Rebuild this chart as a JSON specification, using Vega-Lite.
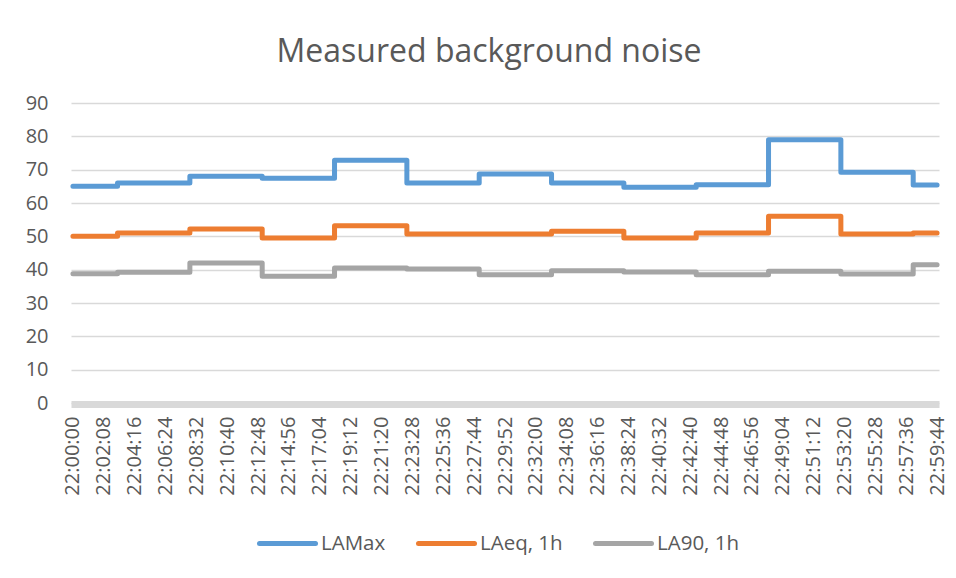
{
  "$schema": "https://vega.github.io/schema/vega-lite/v6.json",
  "width": 868,
  "height": 300,
  "autosize": "none",
  "padding": {"left": 71, "top": 103, "right": 17, "bottom": 175},
  "background": "white",
  "title": {
    "text": "Measured background noise",
    "font": "Open Sans",
    "fontSize": 32,
    "fontWeight": "normal",
    "color": "#595959",
    "anchor": "middle",
    "frame": "group",
    "dx": -16,
    "offset": 24
  },
  "config": {
    "view": {"stroke": null},
    "font": "Open Sans"
  },
  "data": {
    "values": [
      {"t": "2024-01-01T22:00:00", "series": "LAMax", "v": 65.0},
      {"t": "2024-01-01T22:03:05", "series": "LAMax", "v": 66.0},
      {"t": "2024-01-01T22:08:05", "series": "LAMax", "v": 68.0},
      {"t": "2024-01-01T22:13:05", "series": "LAMax", "v": 67.4},
      {"t": "2024-01-01T22:18:05", "series": "LAMax", "v": 72.8},
      {"t": "2024-01-01T22:23:05", "series": "LAMax", "v": 66.0},
      {"t": "2024-01-01T22:28:05", "series": "LAMax", "v": 68.7},
      {"t": "2024-01-01T22:33:05", "series": "LAMax", "v": 66.0},
      {"t": "2024-01-01T22:38:05", "series": "LAMax", "v": 64.7},
      {"t": "2024-01-01T22:43:05", "series": "LAMax", "v": 65.5},
      {"t": "2024-01-01T22:48:05", "series": "LAMax", "v": 79.0},
      {"t": "2024-01-01T22:53:05", "series": "LAMax", "v": 69.2},
      {"t": "2024-01-01T22:58:05", "series": "LAMax", "v": 65.4},
      {"t": "2024-01-01T22:59:44", "series": "LAMax", "v": 65.4},
      {"t": "2024-01-01T22:00:00", "series": "LAeq, 1h", "v": 50.0},
      {"t": "2024-01-01T22:03:05", "series": "LAeq, 1h", "v": 51.0},
      {"t": "2024-01-01T22:08:05", "series": "LAeq, 1h", "v": 52.2},
      {"t": "2024-01-01T22:13:05", "series": "LAeq, 1h", "v": 49.5},
      {"t": "2024-01-01T22:18:05", "series": "LAeq, 1h", "v": 53.2},
      {"t": "2024-01-01T22:23:05", "series": "LAeq, 1h", "v": 50.7},
      {"t": "2024-01-01T22:28:05", "series": "LAeq, 1h", "v": 50.7},
      {"t": "2024-01-01T22:33:05", "series": "LAeq, 1h", "v": 51.5},
      {"t": "2024-01-01T22:38:05", "series": "LAeq, 1h", "v": 49.5},
      {"t": "2024-01-01T22:43:05", "series": "LAeq, 1h", "v": 51.0},
      {"t": "2024-01-01T22:48:05", "series": "LAeq, 1h", "v": 56.0},
      {"t": "2024-01-01T22:53:05", "series": "LAeq, 1h", "v": 50.7},
      {"t": "2024-01-01T22:58:05", "series": "LAeq, 1h", "v": 51.0},
      {"t": "2024-01-01T22:59:44", "series": "LAeq, 1h", "v": 51.0},
      {"t": "2024-01-01T22:00:00", "series": "LA90, 1h", "v": 38.8},
      {"t": "2024-01-01T22:03:05", "series": "LA90, 1h", "v": 39.2},
      {"t": "2024-01-01T22:08:05", "series": "LA90, 1h", "v": 42.0},
      {"t": "2024-01-01T22:13:05", "series": "LA90, 1h", "v": 38.0},
      {"t": "2024-01-01T22:18:05", "series": "LA90, 1h", "v": 40.5},
      {"t": "2024-01-01T22:23:05", "series": "LA90, 1h", "v": 40.2},
      {"t": "2024-01-01T22:28:05", "series": "LA90, 1h", "v": 38.5},
      {"t": "2024-01-01T22:33:05", "series": "LA90, 1h", "v": 39.7},
      {"t": "2024-01-01T22:38:05", "series": "LA90, 1h", "v": 39.3},
      {"t": "2024-01-01T22:43:05", "series": "LA90, 1h", "v": 38.5},
      {"t": "2024-01-01T22:48:05", "series": "LA90, 1h", "v": 39.5},
      {"t": "2024-01-01T22:53:05", "series": "LA90, 1h", "v": 38.7},
      {"t": "2024-01-01T22:58:05", "series": "LA90, 1h", "v": 41.5},
      {"t": "2024-01-01T22:59:44", "series": "LA90, 1h", "v": 41.5}
    ]
  },
  "mark": {"type": "line", "interpolate": "step-after", "strokeWidth": 5, "strokeJoin": "round", "strokeCap": "round"},
  "encoding": {
    "x": {
      "field": "t",
      "type": "temporal",
      "scale": {
        "domain": [
          {"year": 2024, "month": 1, "date": 1, "hours": 21, "minutes": 59, "seconds": 52},
          {"year": 2024, "month": 1, "date": 1, "hours": 22, "minutes": 59, "seconds": 52}
        ]
      },
      "axis": {
        "title": null,
        "format": "%H:%M:%S",
        "labelAngle": -90,
        "labelAlign": "right",
        "labelBaseline": "middle",
        "labelFontSize": 20,
        "labelColor": "#595959",
        "labelPadding": 12,
        "labelOverlap": false,
        "labelFlush": false,
        "ticks": false,
        "tickSize": 0,
        "grid": false,
        "domainColor": "#d9d9d9",
        "domainWidth": 7,
        "offset": 1,
        "values": [
          {"year": 2024, "month": 1, "date": 1, "hours": 22, "minutes": 0, "seconds": 0},
          {"year": 2024, "month": 1, "date": 1, "hours": 22, "minutes": 2, "seconds": 8},
          {"year": 2024, "month": 1, "date": 1, "hours": 22, "minutes": 4, "seconds": 16},
          {"year": 2024, "month": 1, "date": 1, "hours": 22, "minutes": 6, "seconds": 24},
          {"year": 2024, "month": 1, "date": 1, "hours": 22, "minutes": 8, "seconds": 32},
          {"year": 2024, "month": 1, "date": 1, "hours": 22, "minutes": 10, "seconds": 40},
          {"year": 2024, "month": 1, "date": 1, "hours": 22, "minutes": 12, "seconds": 48},
          {"year": 2024, "month": 1, "date": 1, "hours": 22, "minutes": 14, "seconds": 56},
          {"year": 2024, "month": 1, "date": 1, "hours": 22, "minutes": 17, "seconds": 4},
          {"year": 2024, "month": 1, "date": 1, "hours": 22, "minutes": 19, "seconds": 12},
          {"year": 2024, "month": 1, "date": 1, "hours": 22, "minutes": 21, "seconds": 20},
          {"year": 2024, "month": 1, "date": 1, "hours": 22, "minutes": 23, "seconds": 28},
          {"year": 2024, "month": 1, "date": 1, "hours": 22, "minutes": 25, "seconds": 36},
          {"year": 2024, "month": 1, "date": 1, "hours": 22, "minutes": 27, "seconds": 44},
          {"year": 2024, "month": 1, "date": 1, "hours": 22, "minutes": 29, "seconds": 52},
          {"year": 2024, "month": 1, "date": 1, "hours": 22, "minutes": 32, "seconds": 0},
          {"year": 2024, "month": 1, "date": 1, "hours": 22, "minutes": 34, "seconds": 8},
          {"year": 2024, "month": 1, "date": 1, "hours": 22, "minutes": 36, "seconds": 16},
          {"year": 2024, "month": 1, "date": 1, "hours": 22, "minutes": 38, "seconds": 24},
          {"year": 2024, "month": 1, "date": 1, "hours": 22, "minutes": 40, "seconds": 32},
          {"year": 2024, "month": 1, "date": 1, "hours": 22, "minutes": 42, "seconds": 40},
          {"year": 2024, "month": 1, "date": 1, "hours": 22, "minutes": 44, "seconds": 48},
          {"year": 2024, "month": 1, "date": 1, "hours": 22, "minutes": 46, "seconds": 56},
          {"year": 2024, "month": 1, "date": 1, "hours": 22, "minutes": 49, "seconds": 4},
          {"year": 2024, "month": 1, "date": 1, "hours": 22, "minutes": 51, "seconds": 12},
          {"year": 2024, "month": 1, "date": 1, "hours": 22, "minutes": 53, "seconds": 20},
          {"year": 2024, "month": 1, "date": 1, "hours": 22, "minutes": 55, "seconds": 28},
          {"year": 2024, "month": 1, "date": 1, "hours": 22, "minutes": 57, "seconds": 36},
          {"year": 2024, "month": 1, "date": 1, "hours": 22, "minutes": 59, "seconds": 44}
        ]
      }
    },
    "y": {
      "field": "v",
      "type": "quantitative",
      "scale": {"domain": [0, 90], "nice": false, "zero": true},
      "axis": {
        "title": null,
        "values": [0, 10, 20, 30, 40, 50, 60, 70, 80, 90],
        "labelFontSize": 20,
        "labelColor": "#595959",
        "labelPadding": 23,
        "ticks": false,
        "tickSize": 0,
        "domain": false,
        "grid": true,
        "gridColor": "#d9d9d9",
        "gridWidth": 1.3
      }
    },
    "color": {
      "field": "series",
      "type": "nominal",
      "scale": {"domain": ["LAMax", "LAeq, 1h", "LA90, 1h"], "range": ["#5b9bd5", "#ed7d31", "#a5a5a5"]},
      "legend": {
        "title": null,
        "orient": "none",
        "direction": "horizontal",
        "legendX": 186,
        "legendY": 410,
        "padding": 0,
        "symbolType": "stroke",
        "symbolSize": 3136,
        "symbolStrokeWidth": 5,
        "labelFontSize": 20.5,
        "labelColor": "#595959",
        "labelOffset": 3,
        "columnPadding": 22,
        "encode": {"symbols": {"update": {"strokeCap": {"value": "round"}}}}
      }
    }
  }
}
